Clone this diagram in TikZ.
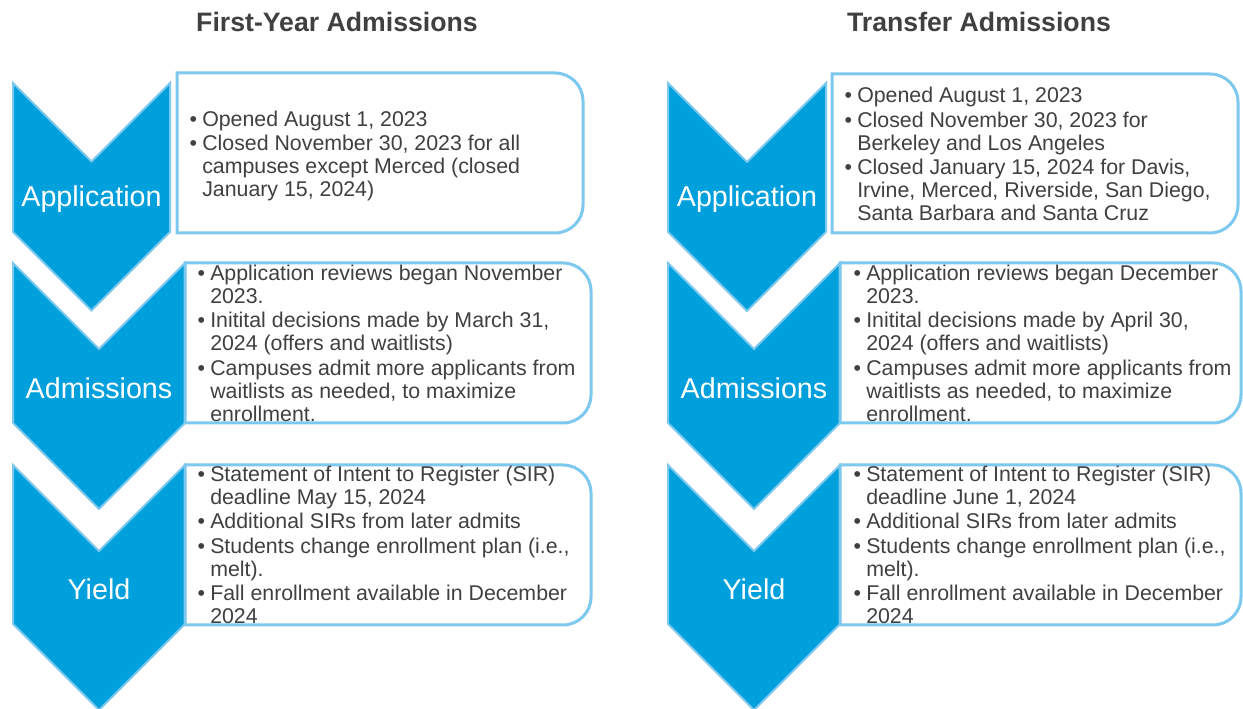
\documentclass[tikz,border=0pt]{standalone}
\usepackage{fontspec}
\setmainfont{Liberation Sans}
\definecolor{chevfill}{RGB}{0,160,220}
\definecolor{lineblue}{RGB}{125,200,238}
\definecolor{txtgray}{RGB}{64,64,64}
\newcommand\mybul{\makebox[7.5pt][l]{\hspace{-2pt}•}}
\newcommand\mychev[4]{% cx, half, top, straight-bottom
  \fill[chevfill] ({#1-#2},#3) -- (#1,{#3-#2}) -- ({#1+#2},#3) -- ({#1+#2},#4) -- (#1,{#4-#2}) -- ({#1-#2},#4) -- cycle;
  \draw[chevline] ({#1-#2},#3) -- (#1,{#3-#2}) -- ({#1+#2},#3) -- ({#1+#2},#4) -- (#1,{#4-#2}) -- ({#1-#2},#4) -- cycle;}
\newcommand\mybox[4]{% x1, x2, top, bottom
  \draw[boxline] (#1,#3) -- ({#2-28},#3) arc[start angle=90,end angle=0,radius=21pt] -- (#2,{#4+28}) arc[start angle=0,end angle=-90,radius=21pt] -- (#1,#4) -- cycle;}
\tikzset{
  chevline/.style={draw=lineblue, line width=1.5pt, line join=miter},
  boxline/.style={draw=lineblue, line width=2.25pt},
  chevlabel/.style={text=white, font=\fontsize{21.5}{24}\selectfont, inner sep=0pt},
  titletext/.style={text=txtgray, font=\fontsize{20}{24}\selectfont\bfseries, inner sep=0pt},
  bodytext/.style={text=txtgray, font=\fontsize{16}{17.25}\selectfont, inner sep=0pt, anchor=west},
}
\begin{document}
\begin{tikzpicture}[x=0.75pt,y=0.75pt]
\useasboundingbox (0,0) rectangle (1243,709);
\fill[white] (0,0) rectangle (1243,709);

% titles
\node[titletext] (tl) at (337,687) {First-Year Admissions};
\node[titletext] (tr) at (979,687) {Transfer Admissions};

% left chevrons
\mychev{91.5}{78.5}{626}{477}
\mychev{99}{86}{446}{286}
\mychev{99}{86}{244}{85}
% right chevrons
\mychev{747}{79}{626}{477}
\mychev{754}{86}{446}{286}
\mychev{754}{86}{244}{85}

% boxes
\mybox{177}{583}{636}{476}
\mybox{185}{591}{446}{286}
\mybox{185}{591}{244}{84}
\mybox{832}{1238}{635}{476}
\mybox{840}{1241}{446}{286}
\mybox{840}{1241}{244}{84}

% chevron labels
\node[chevlabel] (la1) at (91.5,510) {Application};
\node[chevlabel] (la2) at (99,321) {Admissions};
\node[chevlabel] (la3) at (99,120) {Yield};
\node[chevlabel] (ra1) at (747,510) {Application};
\node[chevlabel] (ra2) at (754,321) {Admissions};
\node[chevlabel] (ra3) at (754,120) {Yield};

% left texts
\node[bodytext] (lt1) at (192,552) {\begin{tabular}{@{}l@{}l@{}}
\mybul & Opened August 1, 2023\\[1.1pt]
\mybul & Closed November 30, 2023 for all\\
& campuses except Merced (closed\\
& January 15, 2024)
\end{tabular}};
\node[bodytext] (lt2) at (200,363) {\begin{tabular}{@{}l@{}l@{}}
\mybul & Application reviews began November\\
& 2023.\\[1.1pt]
\mybul & Initital decisions made by March 31,\\
& 2024 (offers and waitlists)\\[1.1pt]
\mybul & Campuses admit more applicants from\\
& waitlists as needed, to maximize\\
& enrollment.
\end{tabular}};
\node[bodytext] (lt3) at (200,161) {\begin{tabular}{@{}l@{}l@{}}
\mybul & Statement of Intent to Register (SIR)\\
& deadline May 15, 2024\\[1.1pt]
\mybul & Additional SIRs from later admits\\[1.1pt]
\mybul & Students change enrollment plan (i.e.,\\
& melt).\\[1.1pt]
\mybul & Fall enrollment available in December\\
& 2024
\end{tabular}};

% right texts
\node[bodytext] (rt1) at (847,552) {\begin{tabular}{@{}l@{}l@{}}
\mybul & Opened August 1, 2023\\[1.1pt]
\mybul & Closed November 30, 2023 for\\
& Berkeley and Los Angeles\\[1.1pt]
\mybul & Closed January 15, 2024 for Davis,\\
& Irvine, Merced, Riverside, San Diego,\\
& Santa Barbara and Santa Cruz
\end{tabular}};
\node[bodytext] (rt2) at (856,363) {\begin{tabular}{@{}l@{}l@{}}
\mybul & Application reviews began December\\
& 2023.\\[1.1pt]
\mybul & Initital decisions made by April 30,\\
& 2024 (offers and waitlists)\\[1.1pt]
\mybul & Campuses admit more applicants from\\
& waitlists as needed, to maximize\\
& enrollment.
\end{tabular}};
\node[bodytext] (rt3) at (856,161) {\begin{tabular}{@{}l@{}l@{}}
\mybul & Statement of Intent to Register (SIR)\\
& deadline June 1, 2024\\[1.1pt]
\mybul & Additional SIRs from later admits\\[1.1pt]
\mybul & Students change enrollment plan (i.e.,\\
& melt).\\[1.1pt]
\mybul & Fall enrollment available in December\\
& 2024
\end{tabular}};
\end{tikzpicture}
\end{document}
